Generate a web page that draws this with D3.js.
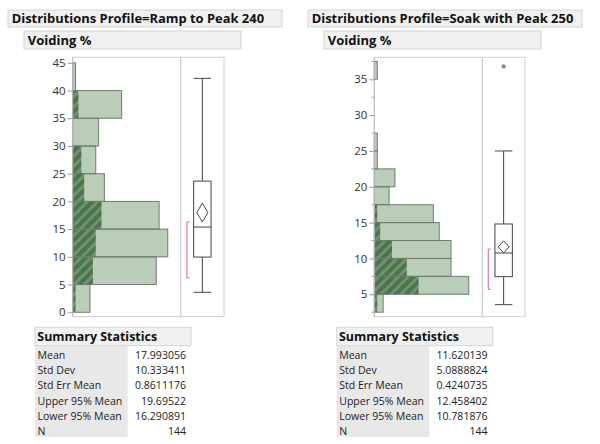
<!DOCTYPE html>
<html><head><meta charset="utf-8">
<script src="https://cdn.jsdelivr.net/npm/d3@7"></script>
<style>body{margin:0;background:#fff}svg{display:block}text{font-family:"Open Sans",sans-serif}</style>
</head><body><svg id="c" width="600" height="444"></svg>
<script>
// ---------- data ----------
const panelTitles = ["Distributions Profile=Ramp to Peak 240", "Distributions Profile=Soak with Peak 250"];
const varTitle = "Voiding %";
// left panel histogram (bin width 5)
const leftBinEdges = [0,5,10,15,20,25,30,35,40,45];
const leftCounts   = [6,29,33,30,11,8,9,17,1];
const leftHatch    = [1,7,8,10,4,3,0,2,0];
const leftTicks    = [0,5,10,15,20,25,30,35,40,45];
const leftMinorTicks = [];
// right panel histogram (bin width 2.5)
const rightBinEdges = [2.5,5,7.5,10,12.5,15,17.5,20,22.5,25,27.5,30,32.5,35,37.5];
const rightCounts   = [3,32,26,26,22,20,5,7,1,1,0,0,0,1];
const rightHatch    = [1,15,11,6,2,1,0,0,0,0,0,0,0,0];
const rightTicks    = [5,10,15,20,25,30,35];
const rightMinorTicks = [2.5,7.5,12.5,17.5,22.5,27.5,32.5,37.5];
// box plot summaries [lowWhisker, q1, median, q3, highWhisker]
const leftBox  = [3.6, 9.96, 15.37, 23.66, 42.2];
const rightBox = [3.55, 7.46, 10.76, 14.81, 25.0];
const leftOutliers = [];
const rightOutliers = [36.8];
const leftShortestHalf  = [6.2, 16.3];
const rightShortestHalf = [5.7, 11.3];
// summary statistics
const statLabels = ["Mean","Std Dev","Std Err Mean","Upper 95% Mean","Lower 95% Mean","N"];
const leftStats  = ["17.993056","10.333411","0.8611176","19.69522","16.290891","144"];
const rightStats = ["11.620139","5.0888824","0.4240735","12.458402","10.781876","144"];

// ---------- drawing ----------
const svg = d3.select("#c");
const defs = svg.append("defs");
const pat = defs.append("pattern").attr("id","hatch").attr("patternUnits","userSpaceOnUse")
  .attr("width",7).attr("height",7).attr("patternTransform","rotate(45)");
pat.append("rect").attr("width",7).attr("height",7).attr("fill","#4e734f");
pat.append("rect").attr("width",3).attr("height",7).attr("fill","#6d946d");

// font sizes fitted to the reference's text widths
function fitSize(text, weight, target){
  const t = svg.append("text").attr("font-size",20).attr("font-weight",weight).text(text);
  const w = t.node().getComputedTextLength(); t.remove();
  return 20*target/w;
}
const titleFs = fitSize(panelTitles[0],"bold",252.6);
const varFs   = fitSize(varTitle,"bold",64);
const sumFs   = fitSize("Summary Statistics","bold",120);
const tabFs   = fitSize("Upper 95% Mean","normal",85);

function panel(o){
  const g = svg.append("g");
  // header boxes
  g.append("rect").attr("x",o.hx).attr("y",10).attr("width",274).attr("height",17)
    .attr("fill","#f0f0f0").attr("stroke","#d4d4d4");
  g.append("text").attr("x",o.hx+3.7).attr("y",23.3).attr("font-size",titleFs).attr("font-weight","bold")
    .attr("fill","#111").text(o.title);
  g.append("rect").attr("x",o.hx+16).attr("y",31).attr("width",217).attr("height",18)
    .attr("fill","#f0f0f0").attr("stroke","#d4d4d4");
  g.append("text").attr("x",o.hx+19.7).attr("y",44.8).attr("font-size",varFs).attr("font-weight","bold")
    .attr("fill","#111").text(varTitle);

  const top = 57.3, bottom = 316.7;
  const y = d3.scaleLinear().domain(o.ydom).range([bottom, top]);
  const x = d3.scaleLinear().domain([0, o.xmax]).range([o.hl, o.hr]);

  // frames
  g.append("rect").attr("x",o.hl).attr("y",top).attr("width",o.hr-o.hl).attr("height",bottom-top)
    .attr("fill","none").attr("stroke","#cfcfcf");
  g.append("rect").attr("x",o.hr).attr("y",top).attr("width",o.br-o.hr).attr("height",bottom-top)
    .attr("fill","none").attr("stroke","#cfcfcf");

  const bins = o.counts.map((c,i)=>({c, h:o.hatch[i], y0:o.edges[i], y1:o.edges[i+1]})).filter(d=>d.c>0);
  g.selectAll(".bar").data(bins).join("rect")
    .attr("x",x(0)).attr("y",d=>y(d.y1)).attr("width",d=>x(d.c)-x(0)).attr("height",d=>y(d.y0)-y(d.y1))
    .attr("fill","#b9cdb9");
  g.selectAll(".hb").data(bins.filter(d=>d.h>0)).join("rect")
    .attr("x",x(0)).attr("y",d=>y(d.y1)).attr("width",d=>x(d.h)-x(0)).attr("height",d=>y(d.y0)-y(d.y1))
    .attr("fill","url(#hatch)");
  g.selectAll(".bo").data(bins).join("rect")
    .attr("x",x(0)).attr("y",d=>y(d.y1)).attr("width",d=>x(d.c)-x(0)).attr("height",d=>y(d.y0)-y(d.y1))
    .attr("fill","none").attr("stroke","#6f7d6f").attr("stroke-width",1);

  // axis
  const ax = g.append("g").attr("transform",`translate(${o.hl},0)`)
    .call(d3.axisLeft(y).tickValues(o.ticks).tickSize(5).tickPadding(2).tickFormat(d3.format("d")));
  ax.select(".domain").attr("stroke","#bdbdbd").attr("d",`M0,${top}V${bottom}`);
  ax.selectAll(".tick line").attr("stroke","#999");
  ax.selectAll(".tick text").attr("font-size",11.5).attr("fill","#333").attr("font-family","'Open Sans',sans-serif");
  g.selectAll(".minor").data(o.minor.filter(v=>y(v)>=top&&y(v)<=bottom)).join("line")
    .attr("x1",o.hl-3).attr("x2",o.hl).attr("y1",d=>y(d)).attr("y2",d=>y(d)).attr("stroke","#aaa");

  // box plot
  const cx = (o.hr+o.br)/2, bw = 17.4, dw = 11;
  const b = o.box;
  const st = "#444";
  g.append("line").attr("x1",cx).attr("x2",cx).attr("y1",y(b[0])).attr("y2",y(b[1])).attr("stroke",st);
  g.append("line").attr("x1",cx).attr("x2",cx).attr("y1",y(b[3])).attr("y2",y(b[4])).attr("stroke",st);
  [b[0],b[4]].forEach(v=>g.append("line").attr("x1",cx-bw/2).attr("x2",cx+bw/2).attr("y1",y(v)).attr("y2",y(v)).attr("stroke",st));
  g.append("rect").attr("x",cx-bw/2).attr("y",y(b[3])).attr("width",bw).attr("height",y(b[1])-y(b[3]))
    .attr("fill","#fff").attr("stroke",st);
  g.append("line").attr("x1",cx-bw/2).attr("x2",cx+bw/2).attr("y1",y(b[2])).attr("y2",y(b[2])).attr("stroke",st);
  const mean = +o.stats[0], up = +o.stats[3], lo = +o.stats[4];
  g.append("path").attr("d",`M${cx},${y(up)}L${cx+dw/2},${y(mean)}L${cx},${y(lo)}L${cx-dw/2},${y(mean)}Z`)
    .attr("fill","none").attr("stroke",st);
  g.selectAll(".out").data(o.outliers).join("circle").attr("cx",cx).attr("cy",d=>y(d)).attr("r",2.2).attr("fill","#8c8c8c");
  const sx = cx-15.4, sh = o.short;
  g.append("path").attr("d",`M${sx+2.5},${y(sh[1])}H${sx}V${y(sh[0])}H${sx+2.5}`)
    .attr("fill","none").attr("stroke","#e0607a");

  // summary statistics table
  const tx = o.tx;
  g.append("rect").attr("x",tx).attr("y",327.3).attr("width",156).attr("height",18.4)
    .attr("fill","#f0f0f0").attr("stroke","#d4d4d4");
  g.append("text").attr("x",tx+2.3).attr("y",341.3).attr("font-size",sumFs).attr("font-weight","bold")
    .attr("fill","#111").text("Summary Statistics");
  g.append("rect").attr("x",tx).attr("y",346).attr("width",o.lw).attr("height",91).attr("fill","#e8e8e8");
  const rowY = d3.scaleBand().domain(statLabels).range([347, 439]);
  g.selectAll(".lab").data(statLabels).join("text").attr("x",tx+2.5).attr("y",d=>rowY(d)+11.8)
    .attr("font-size",tabFs).attr("fill","#222").text(d=>d);
  g.selectAll(".val").data(o.stats).join("text").attr("x",o.vx).attr("y",(d,i)=>rowY(statLabels[i])+11.8)
    .attr("text-anchor","end").attr("font-size",tabFs).attr("fill","#222").text(d=>d);
}

panel({title:panelTitles[0], hx:8, hl:72.7, hr:180.7, br:224, ydom:[-0.8,46], xmax:37.5,
  edges:leftBinEdges, counts:leftCounts, hatch:leftHatch, ticks:leftTicks, minor:leftMinorTicks,
  box:leftBox, outliers:leftOutliers, short:leftShortestHalf, stats:leftStats, tx:35, lw:92.7, vx:186});
panel({title:panelTitles[1], hx:308, hl:374.3, hr:482.3, br:525, ydom:[1.87,38.07], xmax:36.6,
  edges:rightBinEdges, counts:rightCounts, hatch:rightHatch, ticks:rightTicks, minor:rightMinorTicks,
  box:rightBox, outliers:rightOutliers, short:rightShortestHalf, stats:rightStats, tx:336.7, lw:92.6, vx:487.5});
</script></body></html>
